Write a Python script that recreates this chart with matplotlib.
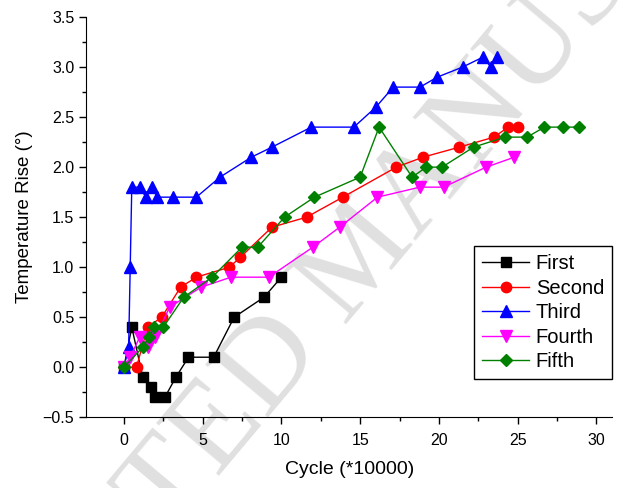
import matplotlib
matplotlib.use("Agg")
import matplotlib.pyplot as plt
from matplotlib.ticker import MultipleLocator

plt.rcParams["font.family"] = ["Liberation Sans", "DejaVu Sans"]

first_x = [0, 0.5, 1.2, 1.7, 2.0, 2.6, 3.3, 4.1, 5.7, 7.0, 8.9, 10.0]
first_y = [0, 0.4, -0.1, -0.2, -0.3, -0.3, -0.1, 0.1, 0.1, 0.5, 0.7, 0.9]

second_x = [0, 0.8, 1.5, 2.4, 3.6, 4.6, 6.7, 7.4, 9.4, 11.6, 13.9, 17.3, 19.0, 21.3, 23.5, 24.4, 25.0]
second_y = [0, 0, 0.4, 0.5, 0.8, 0.9, 1.0, 1.1, 1.4, 1.5, 1.7, 2.0, 2.1, 2.2, 2.3, 2.4, 2.4]

third_x = [0, 0.3, 0.4, 0.5, 1.0, 1.4, 1.8, 2.1, 3.1, 4.6, 6.1, 8.1, 9.4, 11.9, 14.6, 16.0, 17.1, 18.8, 19.9, 21.5, 22.8, 23.3, 23.7]
third_y = [0, 0.2, 1.0, 1.8, 1.8, 1.7, 1.8, 1.7, 1.7, 1.7, 1.9, 2.1, 2.2, 2.4, 2.4, 2.6, 2.8, 2.8, 2.9, 3.0, 3.1, 3.0, 3.1]

fourth_x = [0, 0.4, 1.0, 1.5, 2.0, 2.9, 4.9, 6.8, 9.2, 12.0, 13.7, 16.1, 18.8, 20.3, 23.0, 24.8]
fourth_y = [0, 0.1, 0.3, 0.2, 0.3, 0.6, 0.8, 0.9, 0.9, 1.2, 1.4, 1.7, 1.8, 1.8, 2.0, 2.1]

fifth_x = [0, 1.2, 1.6, 1.9, 2.5, 3.8, 5.6, 7.5, 8.5, 10.2, 12.1, 15.0, 16.2, 18.3, 19.2, 20.2, 22.2, 24.2, 25.6, 26.7, 27.9, 28.9]
fifth_y = [0, 0.2, 0.3, 0.4, 0.4, 0.7, 0.9, 1.2, 1.2, 1.5, 1.7, 1.9, 2.4, 1.9, 2.0, 2.0, 2.2, 2.3, 2.3, 2.4, 2.4, 2.4]

fig = plt.figure(figsize=(6.24, 4.88), dpi=100)
ax = fig.add_axes([0.138, 0.145, 0.843, 0.82])

# watermark behind everything
ax.text(0.582, 0.471, "ACCEPTED MANUSCRIPT", transform=fig.transFigure,
        fontsize=90, family="Liberation Serif", color="#e0e0e0",
        rotation=50, ha="center", va="center", rotation_mode="anchor",
        zorder=0, clip_on=False)

ax.plot(first_x, first_y, color="black", lw=1, marker="s", ms=6.5, label="First", zorder=3)
ax.plot(second_x, second_y, color="red", lw=1, marker="o", ms=7.5, label="Second", zorder=3)
ax.plot(third_x, third_y, color="blue", lw=1, marker="^", ms=8, label="Third", zorder=3)
ax.plot(fourth_x, fourth_y, color="magenta", lw=1, marker="v", ms=8, label="Fourth", zorder=3)
ax.plot(fifth_x, fifth_y, color="green", lw=1, marker="D", ms=6.5, label="Fifth", zorder=3)

ax.set_xlim(-2.4, 31)
ax.set_ylim(-0.5, 3.5)
ax.xaxis.set_major_locator(MultipleLocator(5))
ax.xaxis.set_minor_locator(MultipleLocator(2.5))
ax.yaxis.set_major_locator(MultipleLocator(0.5))
ax.yaxis.set_minor_locator(MultipleLocator(0.25))
ax.tick_params(which="major", direction="out", length=5, width=1, labelsize=11.5)
ax.tick_params(axis="x", which="major", pad=6)
ax.tick_params(which="minor", direction="out", length=3, width=1)

ax.spines["top"].set_visible(False)
ax.spines["right"].set_visible(False)
ax.patch.set_alpha(0)

ax.set_xlabel("Cycle (*10000)", fontsize=14, labelpad=10)
ax.set_ylabel("Temperature Rise (°)", fontsize=13.5, labelpad=7)

leg = ax.legend(loc="lower right", bbox_to_anchor=(1.0, 0.095), borderaxespad=0,
                fontsize=14.5, fancybox=False, edgecolor="black", framealpha=1,
                handlelength=2.3, labelspacing=0.27, borderpad=0.4, handletextpad=0.35)
leg.get_frame().set_linewidth(1)

fig.savefig("out.png", dpi=100)
